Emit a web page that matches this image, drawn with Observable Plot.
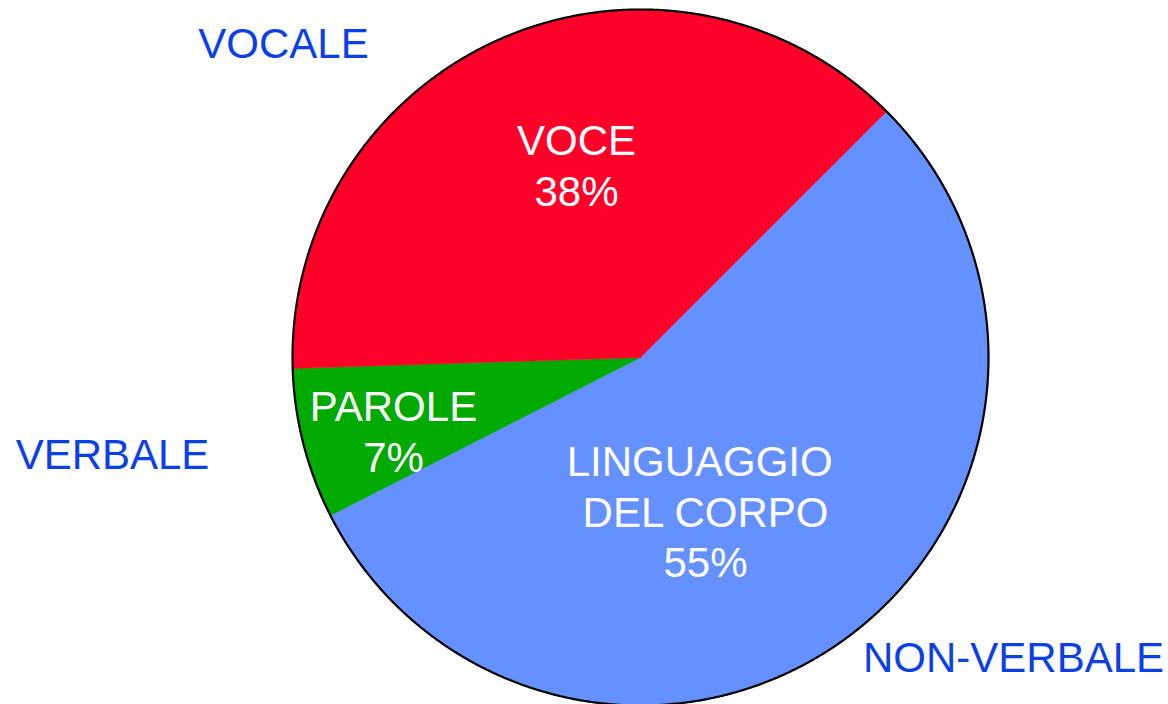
<!DOCTYPE html>
<html>
<head>
<meta charset="utf-8">
<script src="https://cdn.jsdelivr.net/npm/d3@7"></script>
<script src="https://cdn.jsdelivr.net/npm/@observablehq/plot@0.6"></script>
<style>
  html, body { margin: 0; padding: 0; background: #fff; }
  #chart svg { display: block; }
</style>
</head>
<body>
<div id="chart"></div>
<script>
// ---- data ----
const categories = ["LINGUAGGIO DEL CORPO", "PAROLE", "VOCE"];
const values = [55, 7, 38];
const sliceLabels = ["LINGUAGGIO\u00a0\nDEL CORPO\n55%", "PAROLE\n7%", "VOCE\n38%"];
const groupLabels = ["VOCALE", "VERBALE", "NON-VERBALE"];

// ---- styles ----
const colors = ["#6491FF", "#00AA00", "#FF0029"];
const textBlue = "#0A40E6";
const font = "'Liberation Sans', Arial, Helvetica, sans-serif";

// ---- geometry from data ----
const arcs = d3.pie().value(d => d).sort(null)
  .startAngle(Math.PI / 4).endAngle(Math.PI / 4 + 2 * Math.PI)(values);

function slicePolygon(a, name) {
  const pts = [{name, x: 0, y: 0}];
  const n = Math.max(2, Math.ceil((a.endAngle - a.startAngle) / 0.004));
  for (let i = 0; i <= n; i++) {
    const t = a.startAngle + (a.endAngle - a.startAngle) * i / n;
    pts.push({name, x: Math.sin(t), y: Math.cos(t)});
  }
  pts.push({name, x: 0, y: 0});
  return pts;
}
const circle = d3.range(0, 1601).map(i => {
  const t = 2 * Math.PI * i / 1600;
  return {x: Math.sin(t), y: Math.cos(t)};
});

// label placements (pixel offsets, mark options)
const innerPos = [[705, 510], [393, 430], [576, 164]];
const outerPos = [[283, 44], [112, 455], [1013, 658]];

const marks = [];
arcs.forEach((a, i) => {
  marks.push(Plot.line(slicePolygon(a, categories[i]), {
    x: "x", y: "y", fill: colors[i], stroke: colors[i], strokeWidth: 0.5
  }));
});
marks.push(Plot.line(circle, {x: "x", y: "y", stroke: "#000", strokeWidth: 2.2, fill: "none"}));
sliceLabels.forEach((s, i) => {
  marks.push(Plot.text([s], {
    text: d => d, frameAnchor: "top-left", dx: innerPos[i][0], dy: innerPos[i][1],
    lineAnchor: "middle",
    fill: "white", fontSize: 42, lineHeight: 1.2, fontFamily: font, textAnchor: "middle"
  }));
});
groupLabels.forEach((s, i) => {
  marks.push(Plot.text([s], {
    text: d => d, frameAnchor: "top-left", dx: outerPos[i][0], dy: outerPos[i][1],
    lineAnchor: "middle",
    fill: textBlue, fontSize: 42, fontFamily: font, textAnchor: "middle"
  }));
});

const chart = Plot.plot({
  width: 1168,
  height: 704,
  margin: 0,
  style: {background: "#fff", overflow: "visible"},
  x: {domain: [-1, 1], range: [292, 988], axis: null},
  y: {domain: [-1, 1], range: [705, 9], axis: null},
  marks
});
document.getElementById("chart").appendChild(chart);
</script>
</body>
</html>
